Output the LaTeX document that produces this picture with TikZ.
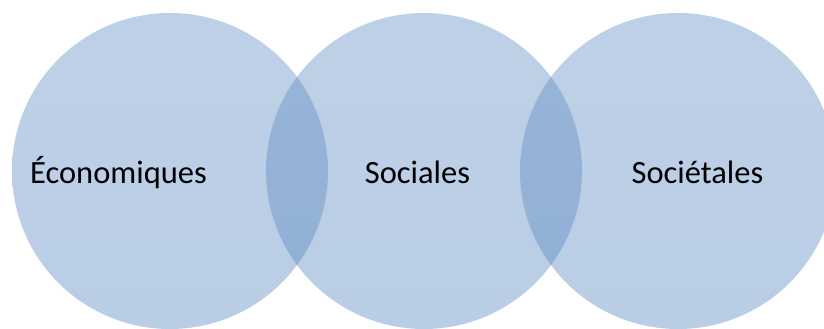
\documentclass[tikz,border=0pt]{standalone}
\usepackage{fontspec}
\setmainfont{Carlito}
\definecolor{vennblue}{HTML}{4F81BD}
\colorlet{vennlight}{vennblue!86!white}
\pgfdeclareverticalshading{vennsh}{100bp}{color(0bp)=(vennblue); color(100bp)=(vennlight)}
\begin{document}
\begin{tikzpicture}[x=1pt,y=-1pt,
  venn/.style={circle, inner sep=0pt, outer sep=0pt, minimum size=316pt, draw=none,
    shading=vennsh, fill opacity=0.41},
  lbl/.style={anchor=base, inner sep=0pt, font=\fontsize{32.5}{38}\selectfont, text=black}]
\useasboundingbox (0,0) rectangle (824,329);
\node[venn] (c1) at (170,171) {};
\node[venn] (c2) at (424,171) {};
\node[venn] (c3) at (678,171) {};
\node[lbl] (t1) at (118.5,183.5) {Économiques};
\node[lbl] (t2) at (417.5,183.5) {Sociales};
\node[lbl] (t3) at (697.5,183.5) {Sociétales};
\end{tikzpicture}
\end{document}
